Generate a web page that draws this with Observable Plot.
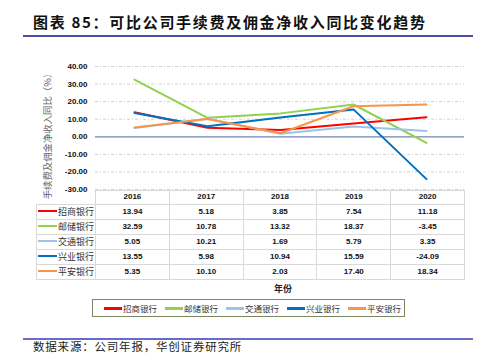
<!DOCTYPE html>
<html><head><meta charset="utf-8">
<script src="https://cdn.jsdelivr.net/npm/d3@7"></script>
<script src="https://cdn.jsdelivr.net/npm/@observablehq/plot@0.6"></script>
<style>
body{margin:0;width:481px;height:353px;overflow:hidden;background:#fff;position:relative;font-family:"Noto Sans CJK SC",sans-serif;}
.abs{position:absolute;}
#title{left:33px;top:11px;font-size:15px;font-weight:bold;color:#111;letter-spacing:1.7px;white-space:nowrap;line-height:22px;}
#tline{left:23px;top:35px;width:450px;height:1.5px;background:#4b50a5;}
#ylab{left:47px;top:134px;transform:translate(-50%,-50%) rotate(-90deg);font-size:9.4px;color:#666;white-space:nowrap;}
#chart{left:0;top:55px;}
table{position:absolute;left:36px;top:190px;border-collapse:collapse;table-layout:fixed;}
td{border:1px solid #d9d9d9;text-align:center;font-family:"Liberation Sans",Arial,sans-serif;font-weight:bold;font-size:8px;color:#111;padding:0;height:14px;line-height:14px;}
tr.hd td{height:12.5px;line-height:12px;}
td.nm{text-align:left;font-family:"Noto Sans CJK SC",sans-serif;font-weight:normal;font-size:9px;color:#333;white-space:nowrap;}
td.blank{border:none;}
.sw{display:inline-block;width:19px;height:2.5px;vertical-align:middle;margin:0 1px 0 1px;position:relative;top:-1px;}
#xlab{left:274px;top:282px;font-size:9px;font-weight:bold;color:#222;}
#legend{left:92px;top:299px;width:311px;height:16px;border:1px solid #7d8660;}
.li{position:absolute;top:0;height:16px;line-height:16px;font-size:8.5px;color:#333;white-space:nowrap;}
#bline{left:23px;top:338px;width:450px;height:1.5px;background:#6a6ac8;}
#foot{left:33px;top:340px;font-size:11.5px;line-height:12px;color:#222;white-space:nowrap;letter-spacing:0.8px;}
</style></head>
<body>
<div id="title" class="abs">图表 85：可比公司手续费及佣金净收入同比变化趋势</div>
<div id="tline" class="abs"></div>
<div id="ylab" class="abs">手续费及佣金净收入同比（%）</div>
<div id="chart" class="abs"></div>
<div id="tablewrap"></div>
<div id="xlab" class="abs">年份</div>
<div id="legend" class="abs"></div>
<div id="bline" class="abs"></div>
<div id="foot" class="abs">数据来源：公司年报，华创证券研究所</div>
<script>
const years = ["2016","2017","2018","2019","2020"];
const banks = ["招商银行","邮储银行","交通银行","兴业银行","平安银行"];
const cmb = [13.94,5.18,3.85,7.54,11.18];
const psbc = [32.59,10.78,13.32,18.37,-3.45];
const bocom = [5.05,10.21,1.69,5.79,3.35];
const cib = [13.55,5.98,10.94,15.59,-24.09];
const pab = [5.35,10.10,2.03,17.40,18.34];
const colors = ["#ff0000","#92d050","#9dc3e6","#0070c0","#f79646"];
const yTicks = [-30,-20,-10,0,10,20,30,40];
const series = [cmb,psbc,bocom,cib,pab];

const rows = [];
banks.forEach((b,i)=>years.forEach((y,j)=>rows.push({bank:b,year:y,value:series[i][j]})));

const chart = Plot.plot({
  width:481,height:140,marginLeft:95,marginRight:17,marginTop:11,marginBottom:6,
  style:{fontFamily:"'Liberation Sans',Arial,sans-serif",fontSize:"8px",fontWeight:"bold",color:"#111",background:"transparent"},
  x:{type:"point",domain:years,padding:0.5,axis:null},
  y:{domain:[-30,40],ticks:yTicks,tickFormat:d=>d.toFixed(2),tickSize:0,tickPadding:8,label:null},
  color:{domain:banks,range:colors},
  marks:[
    Plot.ruleY(yTicks.filter(d=>d!==0),{stroke:"#cfcfcf",strokeDasharray:"3,2,1,2"}),
    Plot.ruleY([0],{stroke:"#6f82b0",strokeWidth:1.3}),
    Plot.line(rows,{x:"year",y:"value",z:"bank",stroke:"bank",strokeWidth:2})
  ]
});
document.getElementById("chart").appendChild(chart);

// table
const fmt = v => v.toFixed(2);
let html = '<table><colgroup><col style="width:59px">' + years.map(()=>'<col style="width:73.8px">').join('') + '</colgroup>';
html += '<tr class="hd"><td class="blank"></td>' + years.map(y=>`<td>${y}</td>`).join('') + '</tr>';
banks.forEach((b,i)=>{
  html += `<tr><td class="nm"><span class="sw" style="background:${colors[i]}"></span>${b}</td>` + series[i].map(v=>`<td>${fmt(v)}</td>`).join('') + '</tr>';
});
html += '</table>';
document.getElementById("tablewrap").innerHTML = html;

// legend
const lx = [10,71,132,193,254];
const lg = document.getElementById("legend");
banks.forEach((b,i)=>{
  const d = document.createElement("div");
  d.className = "li";
  d.style.left = lx[i]+"px";
  d.innerHTML = `<span class="sw" style="background:${colors[i]};width:18px;height:2.5px"></span>${b}`;
  lg.appendChild(d);
});
</script>
</body></html>
